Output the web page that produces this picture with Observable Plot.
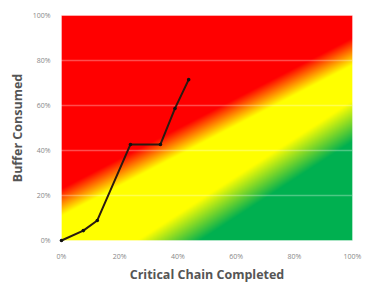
<!DOCTYPE html>
<html>
<head>
<meta charset="utf-8">
<script src="https://cdn.jsdelivr.net/npm/d3@7"></script>
<script src="https://cdn.jsdelivr.net/npm/@observablehq/plot@0.6"></script>
<style>
  html, body { margin: 0; padding: 0; background: #fff; }
</style>
</head>
<body>
<div id="chart"></div>
<script>
// Progress data (percent)
const chainCompleted = [0, 7.5, 12.3, 23.7, 34, 39, 43.7];
const bufferConsumed = [0, 4.4, 8.9, 42.7, 42.7, 58.7, 71.5];
const xTicks = [0, 20, 40, 60, 80, 100];
const yTicks = [0, 20, 40, 60, 80, 100];
const gridValues = [20, 40, 60, 80];
// zone boundaries: y value at x=0 and x=100
const redYellowEdge = [17, 84];
const yellowGreenEdge = [-31, 53];
const zoneColors = ["#00b050", "#ffff00", "#ff0000"];

const data = chainCompleted.map((x, i) => ({x, y: bufferConsumed[i]}));

const edgeAt = (edge, x) => edge[0] + (edge[1] - edge[0]) * x / 100;
const rampRY = 6, rampYG = 9;
const clamp = v => Math.max(0, Math.min(1, v));
const zone = (x, y) =>
  clamp((y - edgeAt(yellowGreenEdge, x) + rampYG) / (2 * rampYG)) +
  clamp((y - edgeAt(redYellowEdge, x) + rampRY) / (2 * rampRY));

const chart = Plot.plot({
  width: 371,
  height: 286,
  marginLeft: 61,
  marginRight: 19,
  marginTop: 15,
  marginBottom: 46,
  style: {fontFamily: "'Open Sans', sans-serif", background: "#fff"},
  x: {domain: [0, 100]},
  y: {domain: [0, 100]},
  color: {type: "linear", domain: [0, 1, 2], range: zoneColors},
  marks: [
    Plot.raster({x1: 0, x2: 100, y1: 0, y2: 100, fill: zone, pixelSize: 1}),
    Plot.ruleY(gridValues, {stroke: "#ffffff", strokeOpacity: 0.3, strokeWidth: 1.5}),
    Plot.frame({stroke: "#ffffff", strokeOpacity: 0.35}),
    Plot.axisX({ticks: xTicks, tickFormat: d => d + "%", tickSize: 0, tickPadding: 14,
      fontSize: 7, fill: "#888", label: "Critical Chain Completed", labelArrow: "none", labelAnchor: "center", labelOffset: 38}),
    Plot.axisY({ticks: yTicks, tickFormat: d => d + "%", tickSize: 0, tickPadding: 11,
      fontSize: 7, fill: "#888", label: "Buffer Consumed", labelArrow: "none", labelAnchor: "center", labelOffset: 48}),
    Plot.line(data, {x: "x", y: "y", stroke: "#2a1a10", strokeWidth: 2}),
    Plot.dot(data, {x: "x", y: "y", r: 1.8, fill: "#111"})
  ]
});

// Style the axis titles (bold, larger, gray), strip any arrows
chart.querySelectorAll("[aria-label='x-axis label'] text, [aria-label='y-axis label'] text").forEach(t => {
  t.textContent = t.textContent.replace(/[\u2190-\u2193]/g, "").trim();
  t.setAttribute("font-size", "12.5");
  t.setAttribute("font-weight", "bold");
  t.setAttribute("fill", "#555");
});
document.getElementById("chart").appendChild(chart);
</script>
</body>
</html>
